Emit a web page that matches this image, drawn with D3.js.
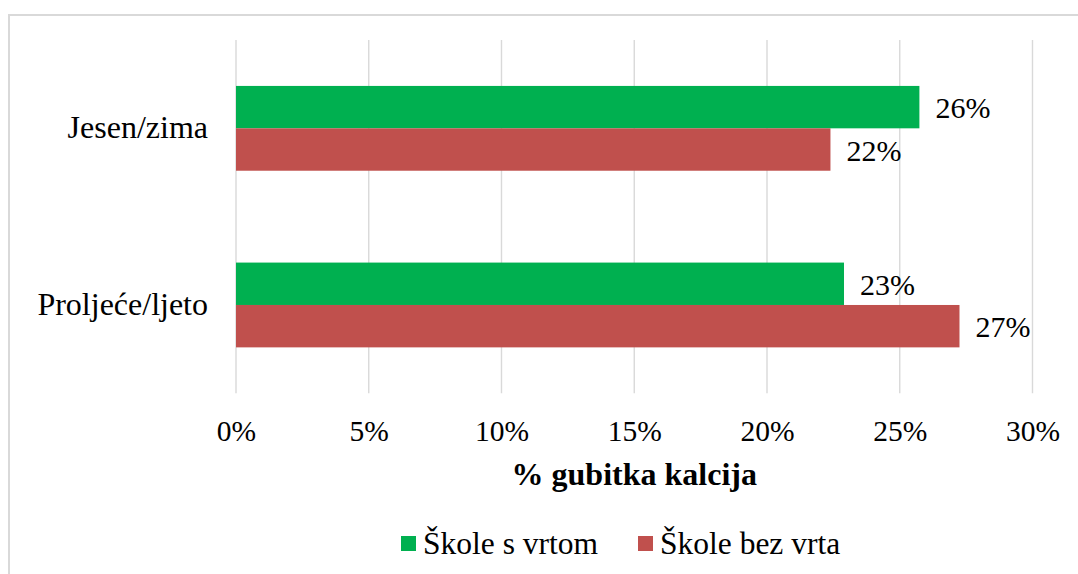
<!DOCTYPE html>
<html>
<head>
<meta charset="utf-8">
<script src="https://cdn.jsdelivr.net/npm/d3@7"></script>
<style>
  html, body { margin: 0; padding: 0; background: #fff; overflow: hidden; }
  svg { display: block; }
</style>
</head>
<body>
<svg id="chart" width="1078" height="574"></svg>
<script>
// ---- data ----
const categories = ["Jesen/zima", "Proljeće/ljeto"];
const seriesNames = ["Škole s vrtom", "Škole bez vrta"];
const seriesColors = ["#00B050", "#C0504D"];
const valuesSaVrtom = [0.2574, 0.229];
const valuesBezVrta = [0.2239, 0.2725];
const tickValues = [0, 0.05, 0.10, 0.15, 0.20, 0.25, 0.30];
const axisTitle = "% gubitka kalcija";

const seriesValues = [valuesSaVrtom, valuesBezVrta];
const FONT = "Liberation Serif";

const svg = d3.select("#chart");

// chart frame
svg.append("rect")
  .attr("x", 9).attr("y", 15)
  .attr("width", 1200).attr("height", 700)
  .attr("fill", "none").attr("stroke", "#d9d9d9").attr("stroke-width", 2);

const plot = { left: 236, right: 1032.5, top: 40, bottom: 393.3 };

const x = d3.scaleLinear().domain([0, 0.30]).range([plot.left, plot.right]);
const y = d3.scaleBand().domain(categories).range([plot.top, plot.bottom])
  .paddingInner(0.52).paddingOuter(0.26);
const ySub = d3.scaleBand().domain(seriesNames).range([0, y.bandwidth()]);

// gridlines
svg.append("g")
  .selectAll("line")
  .data(tickValues)
  .join("line")
  .attr("x1", d => x(d)).attr("x2", d => x(d))
  .attr("y1", plot.top).attr("y2", plot.bottom)
  .attr("stroke", "#d9d9d9").attr("stroke-width", 1.4);

// x axis tick labels via d3 axis
const xAxis = d3.axisBottom(x).tickValues(tickValues)
  .tickFormat(d3.format(".0%")).tickSize(0).tickPadding(0);
const gx = svg.append("g").attr("transform", `translate(0,${plot.bottom})`).call(xAxis);
gx.attr("font-family", null).attr("font-size", null);
gx.select(".domain").remove();
gx.selectAll("text")
  .attr("dy", null).attr("y", 48)
  .style("font-family", FONT)
  .style("font-size", "29.5px").attr("fill", "#000");

// axis title
svg.append("text")
  .attr("x", (plot.left + plot.right) / 2).attr("y", 485)
  .attr("text-anchor", "middle")
  .style("font-family", FONT)
  .style("font-size", "32px").style("font-weight", "bold").attr("fill", "#000")
  .text(axisTitle);

// category labels via d3 axis
const yAxis = d3.axisLeft(y).tickSize(0).tickPadding(28);
const gy = svg.append("g").attr("transform", `translate(${plot.left},0)`).call(yAxis);
gy.attr("font-family", null).attr("font-size", null);
gy.select(".domain").remove();
gy.selectAll("text")
  .attr("dy", null).attr("y", 9.6)
  .style("font-family", FONT)
  .style("font-size", "32px").attr("fill", "#000");

// bars
const rows = [];
categories.forEach((c, i) => {
  seriesNames.forEach((s, j) => {
    rows.push({ cat: c, series: s, value: seriesValues[j][i], color: seriesColors[j] });
  });
});

svg.append("g")
  .selectAll("rect")
  .data(rows)
  .join("rect")
  .attr("x", x(0))
  .attr("y", d => y(d.cat) + ySub(d.series))
  .attr("width", d => x(d.value) - x(0))
  .attr("height", ySub.bandwidth())
  .attr("fill", d => d.color);

// data labels
svg.append("g")
  .selectAll("text")
  .data(rows)
  .join("text")
  .attr("x", d => x(d.value) + 16)
  .attr("y", d => y(d.cat) + ySub(d.series) + ySub.bandwidth() / 2 + 11)
  .style("font-family", FONT)
  .style("font-size", "30px").attr("fill", "#000")
  .text(d => d3.format(".0%")(d.value));

// legend
const legendX = [401, 638];
const legend = svg.append("g")
  .selectAll("g")
  .data(seriesNames)
  .join("g")
  .attr("transform", (d, i) => `translate(${legendX[i]},536)`);
legend.append("rect")
  .attr("width", 15).attr("height", 15)
  .attr("fill", (d, i) => seriesColors[i]);
legend.append("text")
  .attr("x", 22).attr("y", 17.5)
  .style("font-family", FONT)
  .style("font-size", "31.5px").attr("fill", "#000")
  .text(d => d);
</script>
</body>
</html>
